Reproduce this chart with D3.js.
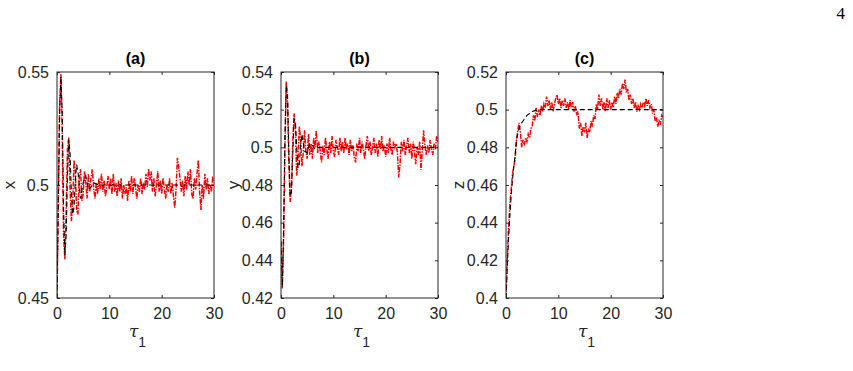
<!DOCTYPE html>
<html lang="en">
<head>
    <meta charset="UTF-8">
    <title>x, y, z against tau1</title>
    <script src="https://d3js.org/d3.v7.min.js"></script>
    <style>
        body {
            margin: 0;
            padding: 0;
            background: white;
        }
        svg text {
            font-family: 'Liberation Sans', Arial, Helvetica, sans-serif;
            fill: #262626;
        }
    </style>
</head>
<body>
    <div id="chart"></div>

    <script>
        // time step of the stochastic runs (red), t = 0 .. 30
        var dt = 0.25;

        // tick labels
        var xTicks = [0, 10, 20, 30];
        var xTickLabels = ["0", "10", "20", "30"];
        var xTicksY = [0.45, 0.5, 0.55];
        var xTickLabelsY = ["0.45", "0.5", "0.55"];
        var yTicksY = [0.42, 0.44, 0.46, 0.48, 0.5, 0.52, 0.54];
        var yTickLabelsY = ["0.42", "0.44", "0.46", "0.48", "0.5", "0.52", "0.54"];
        var zTicksY = [0.4, 0.42, 0.44, 0.46, 0.48, 0.5, 0.52];
        var zTickLabelsY = ["0.4", "0.42", "0.44", "0.46", "0.48", "0.5", "0.52"];

        var panelTitles = ["(a)", "(b)", "(c)"];
        var panelLabels = ["x", "y", "z"];

        // stochastic trajectories (red dash-dot)
        var xNoisy = [
            0.450, 0.492, 0.536, 0.549, 0.522, 0.478, 0.467, 0.488,
            0.516, 0.521, 0.498, 0.484, 0.491, 0.511, 0.506, 0.489,
            0.487, 0.503, 0.507, 0.493, 0.496, 0.506, 0.501, 0.494,
            0.505, 0.497, 0.503, 0.507, 0.499, 0.494, 0.501, 0.496,
            0.503, 0.498, 0.505, 0.497, 0.502, 0.495, 0.499, 0.504,
            0.498, 0.503, 0.496, 0.505, 0.497, 0.501, 0.495, 0.502,
            0.497, 0.503, 0.494, 0.500, 0.496, 0.499, 0.493, 0.502,
            0.497, 0.504, 0.496, 0.503, 0.499, 0.494, 0.500, 0.497,
            0.503, 0.496, 0.501, 0.498, 0.505, 0.499, 0.507, 0.502,
            0.506, 0.497, 0.503, 0.495, 0.500, 0.506, 0.497, 0.502,
            0.496, 0.503, 0.499, 0.494, 0.500, 0.497, 0.503, 0.496,
            0.501, 0.495, 0.490, 0.498, 0.512, 0.508, 0.503, 0.497,
            0.502, 0.495, 0.504, 0.498, 0.506, 0.500, 0.507, 0.496,
            0.494, 0.503, 0.498, 0.505, 0.511, 0.497, 0.489, 0.500,
            0.494, 0.505, 0.498, 0.503, 0.496, 0.500, 0.497, 0.503,
            0.502
        ];
        var yNoisy = [
            0.450, 0.425, 0.452, 0.500, 0.535, 0.524, 0.492, 0.471,
            0.478, 0.503, 0.518, 0.510, 0.485, 0.492, 0.511, 0.504,
            0.490, 0.497, 0.509, 0.498, 0.494, 0.507, 0.496, 0.502,
            0.494, 0.505, 0.500, 0.509, 0.497, 0.503, 0.498, 0.492,
            0.501, 0.496, 0.505, 0.499, 0.494, 0.503, 0.497, 0.506,
            0.498, 0.495, 0.504, 0.500, 0.496, 0.505, 0.498, 0.503,
            0.497, 0.505, 0.499, 0.502, 0.496, 0.504, 0.498, 0.501,
            0.495, 0.492, 0.502, 0.498, 0.505, 0.497, 0.503, 0.499,
            0.494, 0.501, 0.506, 0.498, 0.503, 0.496, 0.500, 0.505,
            0.497, 0.502, 0.495, 0.504, 0.499, 0.506, 0.498, 0.501,
            0.495, 0.502, 0.497, 0.505, 0.499, 0.496, 0.503, 0.500,
            0.502, 0.497, 0.484, 0.491, 0.503, 0.498, 0.504, 0.496,
            0.501, 0.505, 0.497, 0.502, 0.494, 0.503, 0.498, 0.491,
            0.500, 0.496, 0.503, 0.488, 0.499, 0.509, 0.501, 0.496,
            0.501, 0.497, 0.504, 0.499, 0.496, 0.502, 0.499, 0.506,
            0.503
        ];
        var zNoisy = [
            0.400, 0.422, 0.438, 0.450, 0.458, 0.466, 0.470, 0.474,
            0.484, 0.489, 0.493, 0.488, 0.480, 0.484, 0.481, 0.485,
            0.483, 0.487, 0.485, 0.490, 0.491, 0.497, 0.494, 0.501,
            0.496, 0.500, 0.497, 0.502, 0.499, 0.503, 0.501, 0.507,
            0.502, 0.505, 0.500, 0.504, 0.499, 0.503, 0.506, 0.508,
            0.503, 0.506, 0.501, 0.505, 0.502, 0.506, 0.501, 0.504,
            0.500, 0.505, 0.501, 0.504, 0.499, 0.502, 0.497, 0.499,
            0.490, 0.493, 0.486, 0.491, 0.488, 0.493, 0.485, 0.490,
            0.488, 0.494, 0.491, 0.497, 0.495, 0.503, 0.500, 0.508,
            0.502, 0.506, 0.500, 0.504, 0.499, 0.506, 0.501, 0.505,
            0.500, 0.504, 0.501, 0.507, 0.503, 0.509, 0.506, 0.511,
            0.508, 0.514, 0.511, 0.516, 0.509, 0.511, 0.505, 0.508,
            0.503, 0.506, 0.501, 0.504, 0.499, 0.502, 0.500, 0.503,
            0.501, 0.504, 0.502, 0.506, 0.502, 0.505, 0.501, 0.503,
            0.498, 0.500, 0.494, 0.496, 0.491, 0.494, 0.492, 0.497,
            0.496
        ];

        // deterministic solutions (black dashed)
        var detTau = [0, 0.25, 0.5, 0.75, 1, 1.25, 1.5, 1.75, 2, 2.25, 2.5, 2.75, 3, 3.25, 3.5, 3.75, 4, 4.5, 5, 5.5, 6, 6.5, 7, 8, 10, 15, 20, 25, 30];
        var xDet = [0.450, 0.492, 0.532, 0.548, 0.532, 0.490, 0.469, 0.478, 0.504, 0.520, 0.514, 0.496, 0.487, 0.490, 0.502, 0.509, 0.506, 0.494, 0.501, 0.504, 0.498, 0.499, 0.501, 0.500, 0.5, 0.5, 0.5, 0.5, 0.5];
        var yDet = [0.450, 0.426, 0.455, 0.505, 0.533, 0.528, 0.497, 0.474, 0.476, 0.497, 0.515, 0.514, 0.500, 0.489, 0.491, 0.501, 0.507, 0.498, 0.497, 0.502, 0.501, 0.499, 0.500, 0.500, 0.5, 0.5, 0.5, 0.5, 0.5];
        var zDet = [0.400, 0.418, 0.432, 0.444, 0.455, 0.463, 0.470, 0.476, 0.484, 0.487, 0.490, 0.492, 0.493, 0.494, 0.495, 0.496, 0.497, 0.498, 0.499, 0.4995, 0.500, 0.500, 0.500, 0.500, 0.5, 0.5, 0.5, 0.5, 0.5];

        var width = 853;
        var height = 371;
        var plotTop = 72;
        var plotHeight = 226;
        var plotWidth = 157;
        var lefts = [57, 281, 506];

        var panels = [
            {noisy: xNoisy, det: xDet, domain: [0.45, 0.55], ticks: xTicksY, labels: xTickLabelsY},
            {noisy: yNoisy, det: yDet, domain: [0.42, 0.54], ticks: yTicksY, labels: yTickLabelsY},
            {noisy: zNoisy, det: zDet, domain: [0.4, 0.52], ticks: zTicksY, labels: zTickLabelsY}
        ];

        var svg = d3.select("#chart").append("svg")
            .attr("width", width)
            .attr("height", height)
            .attr("viewBox", [0, 0, width, height]);

        // page number
        svg.append("text")
            .attr("x", 845)
            .attr("y", 19)
            .attr("text-anchor", "end")
            .style("font-family", "'Liberation Serif', 'DejaVu Serif', serif")
            .style("font-size", "17px")
            .style("fill", "#000")
            .text("4");

        panels.forEach(function(p, i) {
            var left = lefts[i];

            var xScale = d3.scaleLinear()
                .domain([0, 30])
                .range([0, plotWidth]);

            var yScale = d3.scaleLinear()
                .domain(p.domain)
                .range([plotHeight, 0]);

            var g = svg.append("g")
                .attr("transform", "translate(" + left + "," + plotTop + ")");

            svg.append("clipPath")
                .attr("id", "clip" + i)
                .append("rect")
                .attr("width", plotWidth)
                .attr("height", plotHeight);

            var line = d3.line()
                .x(d => xScale(d[0]))
                .y(d => yScale(d[1]));

            var noisyPts = p.noisy.map((v, k) => [k * dt, v]);
            var detPts = p.det.map((v, k) => [detTau[k], v]);

            var lines = g.append("g").attr("clip-path", "url(#clip" + i + ")");

            lines.append("path")
                .attr("d", line(noisyPts))
                .attr("fill", "none")
                .attr("stroke", "#ff0000")
                .attr("stroke-width", 1.5)
                .attr("stroke-dasharray", "5 1.2 1.5 1.2");

            lines.append("path")
                .attr("d", line(detPts))
                .attr("fill", "none")
                .attr("stroke", "#000")
                .attr("stroke-width", 1.1)
                .attr("stroke-dasharray", "5 3");

            // axes, ticks inside on all four sides (matlab box)
            var axisColor = "#262626";
            var tickLen = 3;

            g.append("g")
                .attr("transform", "translate(0," + plotHeight + ")")
                .call(d3.axisBottom(xScale).tickValues(xTicks).tickSize(-tickLen).tickFormat((d, k) => xTickLabels[k]).tickPadding(10))
                .call(s => s.select(".domain").remove());

            g.append("g")
                .call(d3.axisTop(xScale).tickValues(xTicks).tickSize(-tickLen).tickFormat(""))
                .call(s => s.select(".domain").remove());

            g.append("g")
                .call(d3.axisLeft(yScale).tickValues(p.ticks).tickSize(-tickLen).tickFormat((d, k) => p.labels[k]).tickPadding(8))
                .call(s => s.select(".domain").remove());

            g.append("g")
                .attr("transform", "translate(" + plotWidth + ",0)")
                .call(d3.axisRight(yScale).tickValues(p.ticks).tickSize(-tickLen).tickFormat(""))
                .call(s => s.select(".domain").remove());

            g.selectAll(".tick line").attr("stroke", axisColor);
            g.selectAll(".tick text")
                .style("font-size", "16px")
                .style("font-family", "'Liberation Sans', Arial, sans-serif")
                .attr("fill", axisColor);

            g.append("rect")
                .attr("width", plotWidth)
                .attr("height", plotHeight)
                .attr("fill", "none")
                .attr("stroke", axisColor)
                .attr("stroke-width", 1);

            // title
            g.append("text")
                .attr("x", plotWidth / 2)
                .attr("y", -8)
                .attr("text-anchor", "middle")
                .style("font-size", "16px")
                .style("font-weight", "bold")
                .style("fill", "#000")
                .text(panelTitles[i]);

            // y label, rotated
            g.append("text")
                .attr("transform", "translate(-42," + (plotHeight / 2) + ") rotate(-90)")
                .attr("text-anchor", "middle")
                .style("font-size", "17px")
                .text(panelLabels[i]);

            // x label tau_1
            var xl = g.append("text")
                .attr("x", plotWidth / 2 + 2)
                .attr("y", 265)
                .attr("text-anchor", "middle")
                .style("font-size", "17px");
            xl.append("tspan")
                .style("font-family", "'DejaVu Serif', serif")
                .style("font-style", "italic")
                .text("τ");
            xl.append("tspan")
                .attr("dy", 10)
                .style("font-size", "14px")
                .text("1");
        });
    </script>
</body>
</html>
